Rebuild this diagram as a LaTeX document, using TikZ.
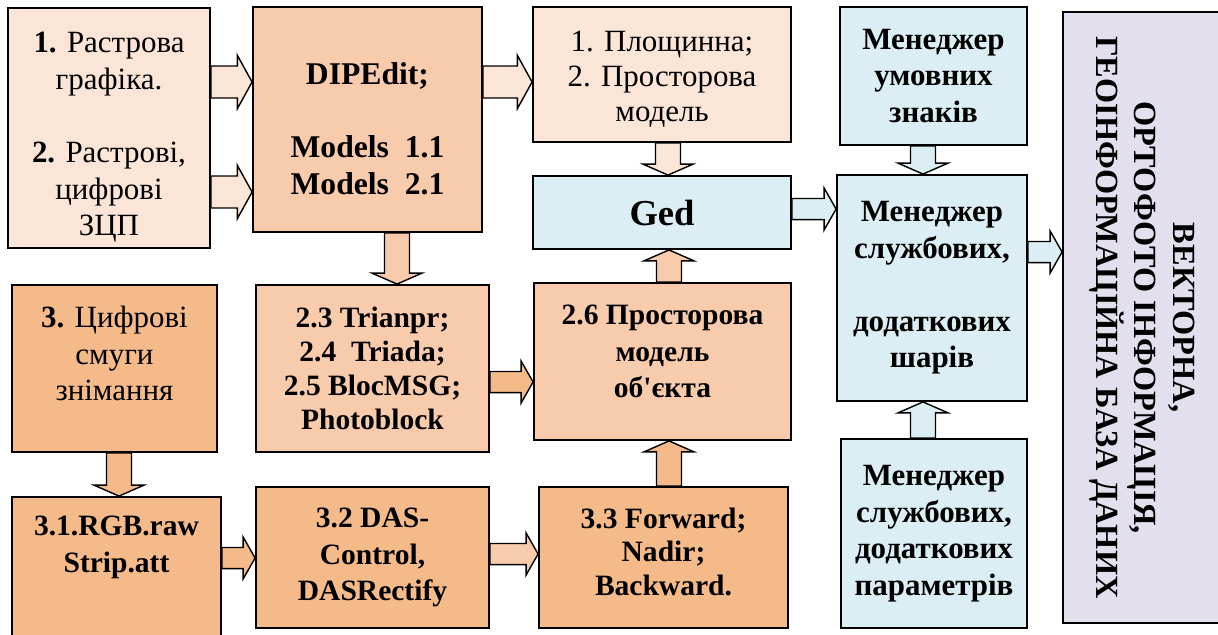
\documentclass[tikz,border=0pt]{standalone}
\usepackage{fontspec}
\setmainfont{Liberation Serif}
\newfontfamily\aposfont{Liberation Serif}
\usetikzlibrary{calc}

\definecolor{peachL}{HTML}{FBE5D6}
\definecolor{peachM}{HTML}{F8CBAD}
\definecolor{orangeD}{HTML}{F5BA8A}
\definecolor{blueL}{HTML}{DAEEF3}
\definecolor{lav}{HTML}{E4DFEC}

\tikzset{
  tbox/.style={draw, line width=1.3pt, align=center, inner sep=0pt, font=\fontsize{22}{26}\selectfont},
  bbox/.style={tbox, font=\fontsize{22}{26}\selectfont\bfseries},
  sbox/.style={tbox, font=\fontsize{21}{26}\selectfont\bfseries},
  wh/.style 2 args={minimum width=#1*0.025cm, minimum height=#2*0.025cm},
  arfat/.code={\def\arsw{11.4pt}\def\arhw{19pt}\def\arhl{10.5pt}},
  arv/.code={\def\arsw{8.9pt}\def\arhw{17.8pt}\def\arhl{7.8pt}},
  arh/.code={\def\arsw{7.5pt}\def\arhw{14.9pt}\def\arhl{8.5pt}},
  blk/.style={draw, line width=1pt, fill=#1, to path={
    let \p1=(\tikztostart), \p2=(\tikztotarget),
        \n1={atan2(\y2-\y1,\x2-\x1)}, \n2={veclen(\x2-\x1,\y2-\y1)} in
    ($(\p1)+(\n1+90:\arsw)$) -- ($(\p1)+(\n1:{\n2-\arhl})+(\n1+90:\arsw)$)
    -- ($(\p1)+(\n1:{\n2-\arhl})+(\n1+90:\arhw)$) -- (\p2)
    -- ($(\p1)+(\n1:{\n2-\arhl})+(\n1-90:\arhw)$)
    -- ($(\p1)+(\n1:{\n2-\arhl})+(\n1-90:\arsw)$)
    -- ($(\p1)+(\n1-90:\arsw)$) -- cycle}},
}

\begin{document}
\begin{tikzpicture}[x=0.025cm, y=-0.025cm]

	\useasboundingbox (0,0) rectangle (1218,634);

	\node[tbox, fill=peachL, wh={202}{240}] (raster) at (109,128) {\mbox{}\\[2pt]\textbf{1.} Растрова\\графіка.\\[26pt]\textbf{2.} Растрові,\\цифрові\\ЗЦП};
	\node[bbox, fill=peachM, wh={229}{225}, font=\fontsize{22.5}{26}\selectfont\bfseries] (dip) at (367.5,119.5) {\mbox{}\\[3pt]DIPEdit;\\[26pt]Models\ \ 1.1\\Models\ \ 2.1};
	\node[tbox, fill=peachL, wh={258}{135}] (plosh) at (662,74.5) {\mbox{}\\[-5pt]1. Площинна;\\[-1pt]2. Просторова\\[-1pt]модель};
	\node[bbox, fill=blueL, wh={187}{138}] (umovn) at (933.5,76) {Менеджер\\умовних\\знаків};
	\node[bbox, fill=lav, rotate=-90, wh={611}{158}, font=\fontsize{23}{27.5}\selectfont\bfseries] (vect) at (1142,317.5) {ВЕКТОРНА,\\ОРТОФОТО ІНФОРМАЦІЯ,\\ГЕОІНФОРМАЦІЙНА БАЗА ДАНИХ};
	\node[bbox, fill=blueL, wh={258}{73}, font=\fontsize{26}{30}\selectfont\bfseries] (ged) at (662,212.5) {Ged};
	\node[bbox, fill=blueL, wh={190}{226}] (sluzh) at (932,288) {Менеджер\\службових,\\[26pt]додаткових\\шарів};
	\node[bbox, fill=blueL, wh={186}{189}] (param) at (934,533.5) {Менеджер\\службових,\\додаткових\\параметрів};

	\node[tbox, fill=orangeD, wh={205}{167}] (smugy) at (114.5,368.5) {\textbf{3.} Цифрові\\смуги\\знімання\\[-4.7pt]\mbox{}};
	\node[sbox, fill=peachM, wh={233}{167}] (trian) at (372.5,368.5) {2.3 Trianpr;\\[-2pt]2.4\ \ Triada;\\[-2pt]2.5 BlocMSG;\\[-2pt]Photoblock};
	\node[sbox, fill=peachM, wh={257}{157}] (model) at (662.5,361.5) {2.6 Просторова\\модель\\об{\aposfont '}єкта\\[-11.8pt]\mbox{}};
	\node[sbox, fill=orangeD, wh={209}{148}] (rgb) at (116.5,571) {3.1.RGB.raw\\Strip.att\\[12pt]\mbox{}};
	\node[sbox, fill=orangeD, wh={233}{141}] (das) at (372.5,557.5) {3.2 DAS-\\Control,\\DASRectify};
	\node[sbox, fill=orangeD, wh={249}{141}] (fwd) at (663.5,557.5) {3.3 Forward;\\[-2pt]Nadir;\\[-2pt]Backward.\\[-17.5pt]\mbox{}};

	\draw[blk=peachL, arfat] (raster.east |- 0,82) to (dip.west |- 0,82);
	\draw[blk=peachL, arfat] (raster.east |- 0,192) to (dip.west |- 0,192);
	\draw[blk=peachL, arfat] (dip.east |- 0,82) to (plosh.west |- 0,82);
	\draw[blk=peachM, arv] (dip.south -| 397,0) to (trian.north -| 397,0);
	\draw[blk=peachL, arv] (plosh.south -| 668,0) to (ged.north -| 668,0);
	\draw[blk=blueL, arh] (ged.east |- 0,209) to (sluzh.west |- 0,209);
	\draw[blk=blueL, arv] (umovn.south -| 923,0) to (sluzh.north -| 923,0);
	\draw[blk=blueL, arh] (sluzh.east |- 0,252) to (vect.south |- 0,252);
	\draw[blk=blueL, arv] (param.north -| 923,0) to (sluzh.south -| 923,0);
	\draw[blk=peachM, arv] (model.north -| 669,0) to (ged.south -| 669,0);
	\draw[blk=orangeD, arh] (trian.east |- 0,382) to (model.west |- 0,382);
	\draw[blk=orangeD, arv] (smugy.south -| 119,0) to (rgb.north -| 119,0);
	\draw[blk=orangeD, arh] (rgb.east |- 0,558) to (das.west |- 0,558);
	\draw[blk=peachM, arh] (das.east |- 0,554) to (fwd.west |- 0,554);
	\draw[blk=orangeD, arv] (fwd.north -| 669,0) to (model.south -| 669,0);

\end{tikzpicture}
\end{document}
